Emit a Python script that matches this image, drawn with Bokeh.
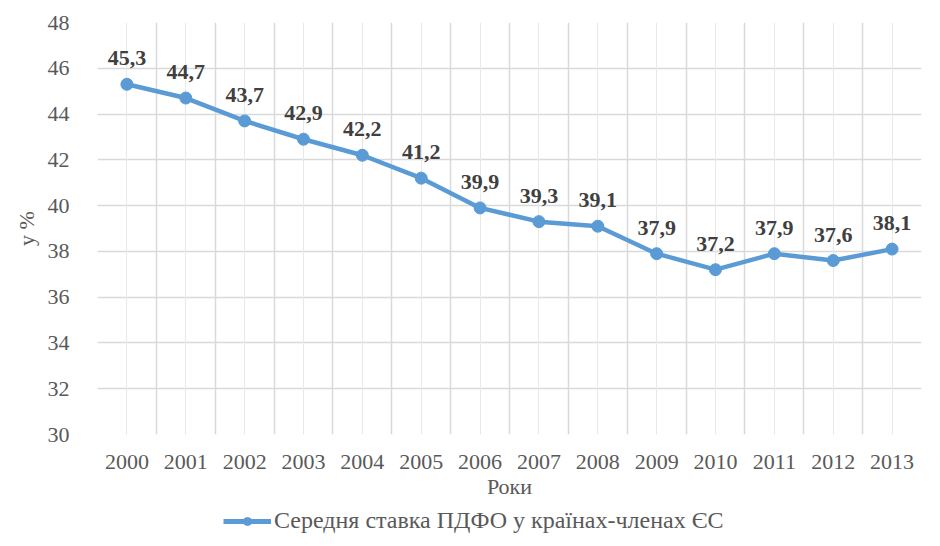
from bokeh.plotting import figure
from bokeh.layouts import column
from bokeh.models import (ColumnDataSource, FixedTicker, Grid, LabelSet, Legend,
                          LegendItem, Range1d)
from bokeh.embed import file_html
from bokeh.resources import INLINE

years = ["2000", "2001", "2002", "2003", "2004", "2005", "2006", "2007",
         "2008", "2009", "2010", "2011", "2012", "2013"]
rates = [45.3, 44.7, 43.7, 42.9, 42.2, 41.2, 39.9, 39.3, 39.1, 37.9, 37.2,
         37.9, 37.6, 38.1]
y_ticks = [30, 32, 34, 36, 38, 40, 42, 44, 46, 48]
series_name = "Середня ставка ПДФО у країнах-членах ЄС"
x_title = "Роки"
y_title = "у %"

FONT = "Liberation Serif"
BLUE = "#5B9BD5"

xs = [i + 0.5 for i in range(len(years))]
labels = [f"{v:.1f}".replace(".", ",") for v in rates]
src = ColumnDataSource(dict(x=xs, y=rates, label=labels))

p = figure(width=940, height=505, output_backend="svg", toolbar_location=None,
           x_range=Range1d(0, len(years)), y_range=Range1d(30, 48),
           min_border_left=97, min_border_right=19, min_border_top=22,
           min_border_bottom=71)
p.outline_line_color = None
p.background_fill_color = "white"

# axes
p.xaxis.ticker = FixedTicker(ticks=xs)
p.xaxis.major_label_overrides = {x: y for x, y in zip(xs, years)}
p.yaxis.ticker = FixedTicker(ticks=y_ticks)
for ax in (p.xaxis[0], p.yaxis[0]):
    ax.axis_line_color = None
    ax.major_tick_line_color = None
    ax.minor_tick_line_color = None
    ax.major_label_text_font = FONT
    ax.major_label_text_font_size = "22px"
    ax.major_label_text_color = "#595959"
    ax.axis_label_text_font = FONT
    ax.axis_label_text_font_style = "normal"
    ax.axis_label_text_font_size = "22px"
    ax.axis_label_text_color = "#595959"
p.xaxis.axis_label = x_title
p.yaxis.axis_label = y_title
p.xaxis.major_label_standoff = 14
p.xaxis.axis_label_standoff = 2
p.yaxis.major_label_standoff = 22
p.yaxis.axis_label_standoff = 6

# grids
p.ygrid.ticker = FixedTicker(ticks=y_ticks)
p.ygrid.grid_line_color = "#d9d9d9"
p.ygrid.grid_line_width = 1.5
p.xgrid.ticker = FixedTicker(ticks=list(range(len(years) + 1)))
p.xgrid.grid_line_color = "#d9d9d9"
p.xgrid.grid_line_width = 1.5
p.add_layout(Grid(dimension=0, ticker=FixedTicker(ticks=xs),
                  grid_line_color="#e8e8e8", grid_line_width=1))

p.line("x", "y", source=src, line_color=BLUE, line_width=4.5)
p.scatter("x", "y", source=src, size=12, fill_color=BLUE, line_color=BLUE)

p.add_layout(LabelSet(x="x", y="y", text="label", source=src, y_offset=19,
                      text_align="center", text_baseline="bottom",
                      text_font=FONT, text_font_style="bold",
                      text_font_size="22px", text_color="#404040"))

# legend strip below the chart
p2 = figure(width=940, height=41, output_backend="svg", toolbar_location=None,
            x_range=Range1d(0, 1), y_range=Range1d(0, 1), min_border=0)
p2.axis.visible = False
p2.grid.visible = False
p2.outline_line_color = None
l2 = p2.line("x", "y", source=src, line_color=BLUE, line_width=5)
d2 = p2.scatter("x", "y", source=src, size=14, fill_color=BLUE, line_color=BLUE)
legend = Legend(items=[LegendItem(label=series_name, renderers=[l2, d2])],
                location=(126, 12), orientation="horizontal",
                border_line_color=None, background_fill_alpha=0,
                label_text_font=FONT, label_text_font_size="24px",
                label_text_color="#595959", glyph_width=48, label_standoff=3,
                padding=0, margin=0)
p2.add_layout(legend, "center")

open("out.html", "w").write(file_html(column(p, p2, spacing=0), INLINE))
